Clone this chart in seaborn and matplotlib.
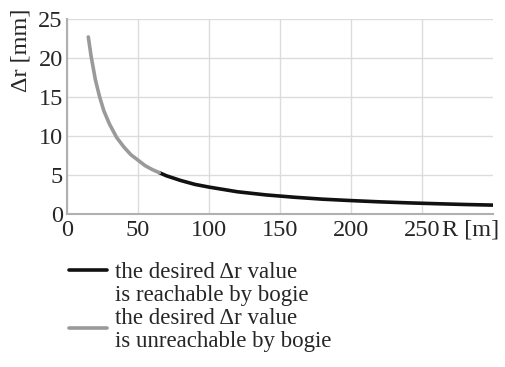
import matplotlib
matplotlib.use('Agg')
import matplotlib.pyplot as plt
from matplotlib.lines import Line2D
import pandas as pd
import seaborn as sns

# curve points (R in m, delta r in mm)
r_unreach = [15, 17, 20, 23, 26, 30, 35, 40, 45, 50, 55, 60, 65]
dr_unreach = [22.7, 20.2, 17.2, 15.0, 13.2, 11.5, 9.8, 8.6, 7.6, 6.9, 6.2, 5.7, 5.3]
r_reach = [65, 70, 80, 90, 100, 120, 140, 160, 180, 200, 220, 240, 260, 280, 300]
dr_reach = [5.3, 4.9, 4.3, 3.8, 3.45, 2.85, 2.45, 2.15, 1.9, 1.72, 1.56, 1.43, 1.32, 1.22, 1.14]

x_ticks = [0, 50, 100, 150, 200, 250]
y_ticks = [0, 5, 10, 15, 20, 25]
labels = ["the desired \u0394r value\nis reachable by bogie",
          "the desired \u0394r value\nis unreachable by bogie"]
colors = ["#111111", "#9a9a9a"]

df = pd.concat([
    pd.DataFrame({"R": r_reach, "dr": dr_reach, "kind": labels[0]}),
    pd.DataFrame({"R": r_unreach, "dr": dr_unreach, "kind": labels[1]}),
])

sns.set_theme(style="white")
plt.rcParams['font.family'] = ['Liberation Serif', 'DejaVu Serif']
FS = 17.5
FS_LEG = 16.5

W, H = 505, 367
fig = plt.figure(figsize=(W / 100, H / 100), dpi=100)
ax = fig.add_axes([67 / W, 1 - 214 / H, (493 - 67) / W, (214 - 19) / H])

sns.lineplot(data=df, x="R", y="dr", hue="kind",
             palette=dict(zip(labels, colors)),
             linewidth=2.6, ax=ax, legend=False, sort=False)

ax.set_xlim(0, 300)
ax.set_ylim(0, 25)
ax.set_xticks(x_ticks)
ax.set_yticks(y_ticks)
ax.tick_params(labelsize=FS, length=0)
ax.tick_params(axis="x", pad=4)
ax.tick_params(axis="y", pad=3)
ax.grid(True, color="#dcdcdc", linewidth=1)
for s in ["top", "right"]:
    ax.spines[s].set_visible(False)
for s in ["left", "bottom"]:
    ax.spines[s].set_color("#b0b0b0")
    ax.spines[s].set_linewidth(1.5)
ax.set_xlabel("")
ax.set_ylabel("")

fig.text(21 / W, 1 - 9 / H, "\u0394r [mm]", rotation=90, fontsize=FS, ha="center", va="top")
fig.text(442 / W, 1 - 230 / H, "R [m]", fontsize=FS, ha="left", va="center")

# legend below the plot, handle level with the first line of each label
handle_y = [270, 328]
text_base = [[278, 301], [324, 347]]
for lab, col, hy, bases in zip(labels, colors, handle_y, text_base):
    fig.add_artist(Line2D([69 / W, 107 / W], [1 - hy / H, 1 - hy / H],
                          color=col, lw=2.6, transform=fig.transFigure))
    for line, b in zip(lab.split("\n"), bases):
        fig.text(115 / W, 1 - b / H, line, fontsize=FS_LEG, ha="left", va="baseline")

fig.savefig("out.png", dpi=100)
